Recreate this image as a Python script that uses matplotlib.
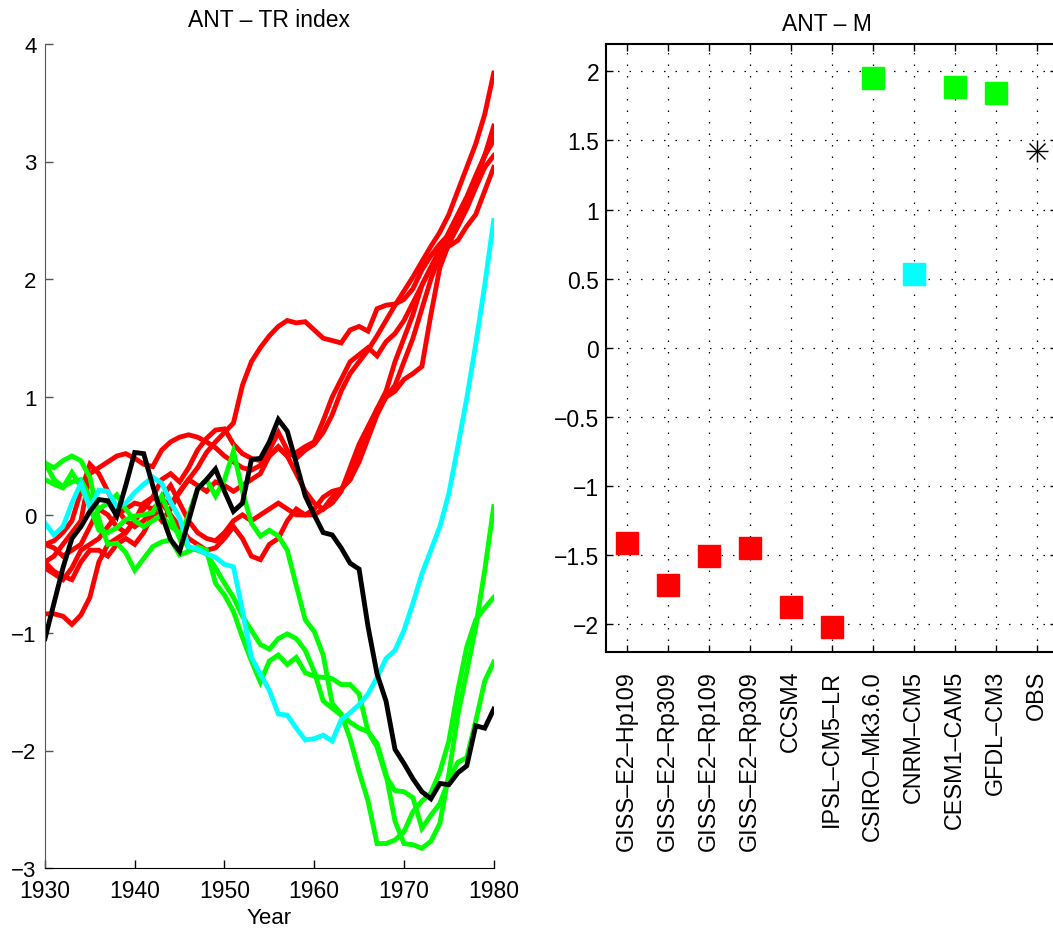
import numpy as np
import matplotlib
matplotlib.use("Agg")
import matplotlib.pyplot as plt
from matplotlib.ticker import FuncFormatter

plt.rcParams['font.family'] = ['Liberation Sans', 'DejaVu Sans']

# ---------------- data ----------------
years = list(range(1930, 1981))

red_1 = [-0.25, -0.22, -0.15, -0.05, 0.20, 0.43, 0.35, 0.20, 0.05, -0.05, -0.10, -0.05, 0.05, 0.12, 0.10,
         0.19, 0.30, 0.40, 0.53, 0.62, 0.70, 0.78, 1.10, 1.30, 1.42, 1.52, 1.60, 1.65, 1.63, 1.64, 1.57,
         1.50, 1.48, 1.46, 1.57, 1.60, 1.56, 1.75, 1.78, 1.79, 1.83, 1.92, 2.08, 2.20, 2.30, 2.38, 2.48,
         2.65, 2.85, 3.05, 3.25]
red_2 = [-0.40, -0.35, -0.25, -0.15, -0.05, 0.35, 0.40, 0.45, 0.50, 0.52, 0.48, 0.43, 0.41, 0.55, 0.62,
         0.66, 0.68, 0.66, 0.62, 0.57, 0.50, 0.45, 0.40, 0.38, 0.42, 0.55, 0.70, 0.55, 0.48, 0.55, 0.60,
         0.70, 0.85, 1.05, 1.20, 1.30, 1.40, 1.52, 1.65, 1.78, 1.90, 2.02, 2.15, 2.28, 2.40, 2.55, 2.75,
         2.95, 3.15, 3.40, 3.75]
red_3 = [-0.84, -0.84, -0.86, -0.93, -0.85, -0.70, -0.40, -0.25, -0.20, -0.15, -0.05, 0.05, 0.15, 0.30, 0.35,
         0.28, 0.40, 0.55, 0.65, 0.72, 0.73, 0.60, 0.52, 0.48, 0.46, 0.50, 0.57, 0.50, 0.53, 0.58, 0.62,
         0.80, 1.00, 1.15, 1.30, 1.36, 1.42, 1.35, 1.47, 1.54, 1.65, 1.80, 1.95, 2.10, 2.25, 2.40, 2.55,
         2.70, 2.88, 3.05, 3.30]
red_4 = [-0.45, -0.50, -0.55, -0.45, -0.30, -0.25, -0.20, -0.10, 0.00, 0.05, 0.10, 0.08, 0.05, -0.05, 0.05,
         0.20, 0.30, 0.25, 0.20, 0.28, 0.25, 0.20, 0.25, 0.30, 0.35, 0.50, 0.58, 0.50, 0.35, 0.20, 0.10,
         0.05, 0.15, 0.22, 0.30, 0.45, 0.65, 0.85, 1.00, 1.10, 1.30, 1.50, 1.75, 2.00, 2.20, 2.32, 2.45,
         2.62, 2.85, 3.05, 3.18]
red_5 = [-0.25, -0.28, -0.35, -0.30, -0.25, -0.10, 0.05, 0.00, -0.10, -0.15, -0.05, 0.10, 0.15, 0.10, 0.00,
         -0.10, -0.20, -0.25, -0.30, -0.28, -0.20, -0.10, -0.20, -0.35, -0.38, -0.25, -0.20, -0.05, 0.05, 0.00, 0.05,
         0.15, 0.20, 0.22, 0.30, 0.50, 0.70, 0.90, 1.00, 1.05, 1.15, 1.20, 1.26, 1.70, 2.10, 2.30, 2.45,
         2.60, 2.78, 2.95, 3.05]
red_6 = [-0.40, -0.48, -0.52, -0.55, -0.40, -0.30, -0.30, -0.35, -0.25, -0.20, -0.25, -0.15, 0.00, 0.15, 0.25,
         0.10, -0.05, -0.15, -0.20, -0.22, -0.15, -0.05, 0.00, -0.05, 0.00, 0.05, 0.10, 0.05, 0.00, 0.00, 0.00,
         0.05, 0.10, 0.20, 0.40, 0.60, 0.75, 0.90, 1.05, 1.30, 1.50, 1.70, 1.95, 2.10, 2.25, 2.28, 2.33,
         2.45, 2.55, 2.75, 2.95]

green_1 = [0.30, 0.26, 0.23, 0.36, 0.24, 0.07, -0.13, -0.15, -0.11, -0.04, -0.01, 0.00, 0.02, 0.16, -0.02,
           -0.20, 0.00, 0.22, 0.30, 0.16, 0.30, 0.54, 0.20, -0.07, -0.18, -0.13, -0.18, -0.30, -0.60, -0.89, -0.99,
           -1.19, -1.60, -1.69, -1.90, -2.18, -2.43, -2.79, -2.79, -2.76, -2.69, -2.52, -2.43, -2.36, -2.18, -1.92, -1.49,
           -1.12, -0.89, -0.79, -0.70]
green_2 = [0.44, 0.40, 0.46, 0.50, 0.46, 0.32, -0.04, -0.25, -0.24, -0.32, -0.47, -0.37, -0.27, -0.23, -0.21,
           -0.34, -0.31, -0.27, -0.30, -0.58, -0.68, -0.82, -1.04, -1.24, -1.42, -1.24, -1.19, -1.27, -1.21, -1.34, -1.37,
           -1.38, -1.39, -1.44, -1.44, -1.52, -1.84, -1.97, -2.22, -2.34, -2.35, -2.40, -2.66, -2.55, -2.45, -2.25, -2.10,
           -2.06, -1.75, -1.41, -1.25]
green_3 = [0.44, 0.30, 0.24, 0.28, 0.30, 0.15, 0.05, 0.10, 0.17, 0.05, -0.05, -0.10, -0.05, 0.00, -0.10,
           -0.15, -0.28, -0.30, -0.33, -0.45, -0.58, -0.70, -0.86, -0.98, -1.10, -1.14, -1.05, -1.01, -1.05, -1.15, -1.33,
           -1.58, -1.64, -1.70, -1.76, -1.81, -1.84, -1.94, -2.20, -2.60, -2.79, -2.80, -2.83, -2.77, -2.62, -2.20, -1.70,
           -1.33, -0.95, -0.47, 0.07]

cyan_1 = [-0.07, -0.17, -0.10, 0.10, 0.27, 0.06, 0.21, 0.20, 0.07, 0.10, 0.19, 0.26, 0.32, 0.27, 0.11,
          -0.03, -0.27, -0.29, -0.33, -0.36, -0.42, -0.44, -0.81, -1.21, -1.35, -1.49, -1.69, -1.70, -1.81, -1.91, -1.90,
          -1.87, -1.92, -1.74, -1.68, -1.61, -1.52, -1.38, -1.22, -1.15, -0.98, -0.75, -0.50, -0.30, -0.10, 0.18, 0.58,
          0.99, 1.45, 1.95, 2.50]

obs = [-1.05, -0.75, -0.45, -0.20, -0.10, 0.03, 0.13, 0.12, -0.01, 0.25, 0.53, 0.52, 0.25, 0.00, -0.21,
       -0.31, -0.05, 0.22, 0.30, 0.39, 0.20, 0.03, 0.10, 0.47, 0.48, 0.62, 0.81, 0.71, 0.44, 0.16, 0.00,
       -0.15, -0.17, -0.28, -0.41, -0.46, -0.95, -1.35, -1.58, -1.99, -2.11, -2.24, -2.35, -2.41, -2.28, -2.29, -2.19,
       -2.13, -1.79, -1.81, -1.65]

red_series = [red_1, red_2, red_3, red_4, red_5, red_6]
green_series = [green_1, green_2, green_3]
cyan_series = [cyan_1]

models = ["GISS–E2–Hp109", "GISS–E2–Rp309", "GISS–E2–Rp109", "GISS–E2–Rp309", "CCSM4",
          "IPSL–CM5–LR", "CSIRO–Mk3.6.0", "CNRM–CM5", "CESM1–CAM5", "GFDL–CM3", "OBS"]
m_values = [-1.41, -1.72, -1.51, -1.45, -1.88, -2.02, 1.95, 0.53, 1.89, 1.84, 1.42]
m_groups = ["red", "red", "red", "red", "red", "red", "green", "cyan", "green", "green", "obs"]

colors = {"red": (1, 0, 0), "green": (0, 1, 0), "cyan": (0, 1, 1), "obs": (0, 0, 0)}

# ---------------- figure ----------------
W, H = 1053, 929
fig = plt.figure(figsize=(W / 100, H / 100), dpi=100)


def fx(px):
    return px / W


def fy(py):
    return 1 - py / H


LW = 3.5

# left panel
axL = fig.add_axes([fx(45), fy(869.3), fx(493.7 - 45), (869.3 - 44.7) / H])
for s in red_series:
    axL.plot(years, s, color=colors["red"], lw=LW, solid_joinstyle='miter')
for s in green_series:
    axL.plot(years, s, color=colors["green"], lw=LW, solid_joinstyle='miter')
for s in cyan_series:
    axL.plot(years, s, color=colors["cyan"], lw=LW, solid_joinstyle='miter')
axL.plot(years, obs, color=colors["obs"], lw=LW, solid_joinstyle='miter')

axL.set_xlim(1930, 1980)
axL.set_ylim(-3, 4)
axL.set_xticks(range(1930, 1981, 10))
axL.set_yticks(range(-3, 5))
axL.spines['top'].set_visible(False)
axL.spines['right'].set_visible(False)
axL.spines['left'].set_color('#555555')
axL.spines['bottom'].set_color('black')
axL.tick_params(axis='both', direction='in', length=6, width=1)
axL.tick_params(axis='y', labelsize=16, pad=6, colors='#555555', labelcolor='black')
axL.tick_params(axis='x', labelsize=16.5, pad=8)
axL.set_xlabel("Year", fontsize=16, labelpad=3)
axL.set_title("ANT – TR index", fontsize=16.5, pad=13)

# right panel
axR = fig.add_axes([fx(606), fy(652.7), fx(1057 - 606), (652.7 - 44.7) / H])
xpos = np.arange(1, len(models) + 1)
for x, v, g in zip(xpos, m_values, m_groups):
    if g == "obs":
        axR.plot(x, v, marker='+', ms=16, mew=1.0, color='black', zorder=3)
        axR.plot(x, v, marker='x', ms=11.5, mew=1.0, color='black', zorder=3)
    else:
        axR.plot(x, v, marker='s', ms=16.5, mec=colors[g], mfc=colors[g], zorder=3)

axR.set_xlim(0.5, 11.5)
axR.set_ylim(-2.2, 2.2)
axR.set_xticks(xpos)
axR.set_xticklabels(models, rotation=90, fontsize=16.8)
axR.set_yticks(np.arange(-2, 2.01, 0.5))
axR.yaxis.set_major_formatter(FuncFormatter(lambda v, p: ("%g" % v).replace("-", "\u2212")))
axR.tick_params(axis='both', direction='in', length=5, width=1, top=True, right=True)
axR.tick_params(axis='y', labelsize=16.5, pad=5)
axR.tick_params(axis='x', pad=13)
axR.grid(True, color='black', linewidth=0.9, linestyle=(0, (1.2, 8)))
for sp in axR.spines.values():
    sp.set_linewidth(1.5)
axR.set_title("ANT – M", fontsize=16.5, pad=10, x=0.489)

fig.savefig("out.png", dpi=100)
